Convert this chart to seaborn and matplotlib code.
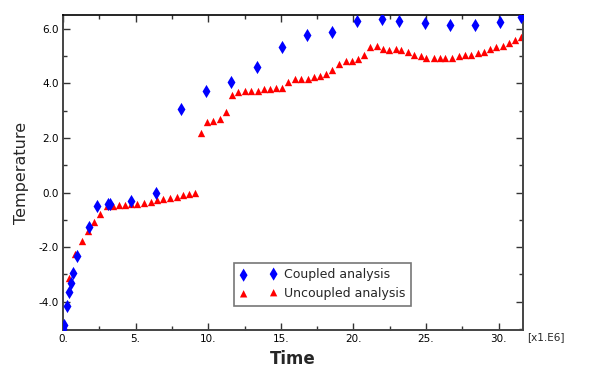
import matplotlib
matplotlib.use("Agg")
import matplotlib.pyplot as plt
import seaborn as sns
from matplotlib.ticker import MultipleLocator, FormatStrFormatter

# %%
coupled_time = [0.0, 0.05, 0.28, 0.41, 0.55, 0.69, 0.97, 1.77, 2.34, 3.13, 3.27,
                4.69, 6.39, 8.14, 9.86, 11.59, 13.36, 15.1, 16.83, 18.55, 20.28,
                22.0, 23.15, 24.9, 26.62, 28.34, 30.07, 31.52]
coupled_temp = [-5.0, -4.85, -4.16, -3.66, -3.30, -2.94, -2.33, -1.28, -0.49, -0.43, -0.43,
                -0.30, -0.03, 3.05, 3.71, 4.07, 4.59, 5.32, 5.76, 5.90, 6.29,
                6.38, 6.29, 6.20, 6.16, 6.16, 6.26, 6.42]

uncoupled_time = [0.0, 0.39, 0.83, 1.31, 1.70, 2.14, 2.55,
                  3.01, 3.45, 3.86, 4.28, 4.71, 5.13, 5.57, 6.05, 6.5, 6.9, 7.36,
                  7.82, 8.23, 8.67, 9.06,
                  9.52, 9.93, 10.34, 10.83, 11.24, 11.66, 12.07, 12.55, 12.97, 13.4,
                  13.82, 14.28, 14.70, 15.1, 15.52, 16.0, 16.41, 16.85, 17.31, 17.72,
                  18.14, 18.55, 19.03, 19.48, 19.89, 20.3, 20.76, 21.17, 21.61, 22.07,
                  22.48, 22.9, 23.31, 23.79, 24.2, 24.62, 25.03, 25.52, 25.93, 26.34,
                  26.76, 27.24, 27.66, 28.07, 28.55, 28.97, 29.38, 29.79, 30.28, 30.69,
                  31.1, 31.52]
uncoupled_temp = [-5.0, -3.14, -2.26, -1.77, -1.40, -1.09, -0.80,
                  -0.51, -0.48, -0.46, -0.46, -0.42, -0.42, -0.40, -0.33, -0.29, -0.25, -0.20,
                  -0.15, -0.10, -0.06, -0.02,
                  2.20, 2.59, 2.64, 2.68, 2.97, 3.56, 3.67, 3.71, 3.71, 3.74,
                  3.78, 3.78, 3.82, 3.85, 4.07, 4.15, 4.18, 4.18, 4.22, 4.26,
                  4.33, 4.51, 4.73, 4.81, 4.84, 4.88, 5.03, 5.32, 5.36, 5.28,
                  5.21, 5.25, 5.21, 5.14, 5.06, 4.99, 4.95, 4.92, 4.92, 4.92,
                  4.95, 4.99, 5.03, 5.06, 5.10, 5.17, 5.25, 5.32, 5.39, 5.47,
                  5.58, 5.72]

# %%
sns.set_style("ticks")
plt.rcParams["font.family"] = ["DejaVu Sans"]

fig = plt.figure(figsize=(5.91, 3.77), dpi=100)
ax = fig.add_axes([0.1066, 0.1239, 0.7789, 0.8355])

sns.scatterplot(x=coupled_time, y=coupled_temp, marker="d", s=45, color="#0000ff",
                linewidth=0, label="Coupled analysis", ax=ax, zorder=3)
sns.scatterplot(x=uncoupled_time, y=uncoupled_temp, marker="^", s=28, color="#ff0000",
                linewidth=0, label="Uncoupled analysis", ax=ax, zorder=2)

ax.set_xlim(0, 31.7)
ax.set_ylim(-5.05, 6.5)
ax.xaxis.set_major_locator(MultipleLocator(5))
ax.xaxis.set_minor_locator(MultipleLocator(2.5))
ax.yaxis.set_major_locator(MultipleLocator(2))
ax.yaxis.set_minor_locator(MultipleLocator(1))
ax.xaxis.set_major_formatter(FormatStrFormatter("%d."))
ax.yaxis.set_major_formatter(FormatStrFormatter("%.1f"))

ax.tick_params(which="both", direction="in", top=True, right=True,
               labelsize=7.5, colors="#333333", labelcolor="black")
ax.tick_params(which="major", length=5, width=1, pad=3)
ax.tick_params(which="minor", length=3, width=1)
for side in ["left", "right", "bottom"]:
    ax.spines[side].set_color("#444444")
    ax.spines[side].set_linewidth(1.4)
ax.spines["top"].set_color("black")
ax.spines["top"].set_linewidth(1.2)

ax.set_xlabel("Time", fontsize=12, fontweight="bold", labelpad=4)
ax.set_ylabel("Temperature", fontsize=11.5, labelpad=7)
ax.text(1.008, -0.022, "[x1.E6]", transform=ax.transAxes, fontsize=7.5,
        ha="left", va="center")

leg = ax.legend(loc="lower left", bbox_to_anchor=(0.372, 0.078), scatterpoints=2,
                fontsize=9, frameon=True, fancybox=False, shadow=False,
                borderpad=0.45, borderaxespad=0, handletextpad=0.5, labelspacing=0.45,
                handlelength=3.0, edgecolor="#555555")
leg.get_frame().set_linewidth(1.2)

fig.savefig("out.png", dpi=100)
